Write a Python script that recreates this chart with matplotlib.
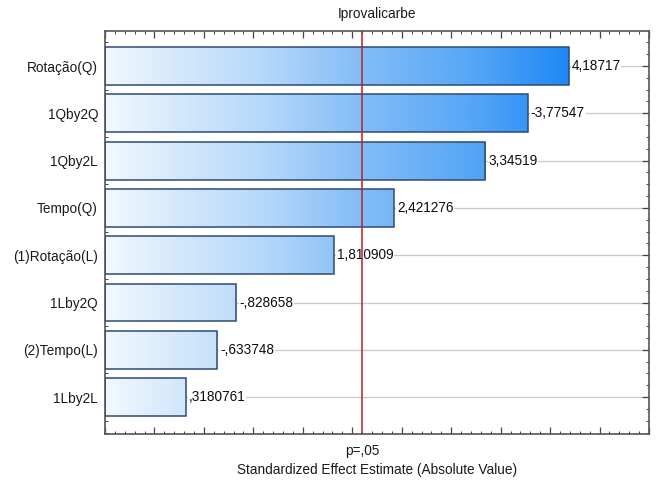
import numpy as np
import matplotlib
matplotlib.use("Agg")
import matplotlib.pyplot as plt
from matplotlib.colors import LinearSegmentedColormap
from matplotlib.patches import Rectangle
from matplotlib.ticker import MultipleLocator, NullFormatter

plt.rcParams['font.family'] = ['Liberation Sans', 'DejaVu Sans']

title = "Iprovalicarbe"
categories = ["Rotação(Q)", "1Qby2Q", "1Qby2L", "Tempo(Q)", "(1)Rotação(L)",
              "1Lby2Q", "(2)Tempo(L)", "1Lby2L"]
effects = [4.18717, -3.77547, 3.34519, 2.421276, 1.810909, -0.828658, -0.633748, 0.3180761]
p_crit = 2.10
p_label = "p=,05"
xlabel = "Standardized Effect Estimate (Absolute Value)"

def fmt(v):
    s = f"{abs(v):.7g}"
    if s.startswith("0."):
        s = s[1:]
    s = s.replace(".", ",")
    return ("-" if v < 0 else "") + s

fs = 9.8
fig = plt.figure(figsize=(6.59, 4.87), dpi=100)
ax = fig.add_axes([105/659, 1-434/487, (649-105)/659, (434-31)/487])

xmin, xmax = -0.5, 5.0
ymin, ymax = -0.78, 7.74
ax.set_xlim(xmin, xmax)
ax.set_ylim(ymin, ymax)

cmap = LinearSegmentedColormap.from_list(
    "g", [(0.0, "#f2f8ff"), (0.18, "#d0e6fb"), (0.35, "#b3d7fa"),
          (0.55, "#84bdf6"), (0.8, "#55a5f6"), (1.0, "#1e88f5")])
norm = plt.Normalize(xmin, 4.19)

n = len(categories)
ypos = [n - 1 - i for i in range(n)]
h = 0.80

for y in ypos:
    ax.axhline(y, color="#c9c9c9", lw=0.9, zorder=0)

for y, v in zip(ypos, effects):
    L = abs(v)
    x0, x1 = xmin, L
    grad = np.linspace(x0, x1, 256).reshape(1, -1)
    im = ax.imshow(grad, cmap=cmap, norm=norm, extent=[x0, x1, y - h/2, y + h/2],
                   aspect="auto", zorder=2, interpolation="bilinear")
    rect = Rectangle((x0, y - h/2), x1 - x0, h, facecolor="none",
                     edgecolor="#2c4c72", lw=1.1, zorder=3)
    ax.add_patch(rect)
    im.set_clip_path(rect)
    ax.text(L + 0.03, y, fmt(v), va="center", ha="left", fontsize=fs,
            color="#0d0d0d", zorder=4,
            bbox=dict(facecolor="white", edgecolor="none", pad=0.5))

ax.axvline(p_crit, color="#b5212b", lw=1.1, zorder=6)
ax.set_xlim(xmin, xmax)
ax.set_ylim(ymin, ymax)

ax.set_yticks(ypos)
ax.set_yticklabels(categories, fontsize=fs, color="#1a1a1a")
ax.yaxis.set_minor_locator(MultipleLocator(0.25))
ax.xaxis.set_major_locator(MultipleLocator(0.5))
ax.xaxis.set_minor_locator(MultipleLocator(0.1))
ax.xaxis.set_major_formatter(NullFormatter())
ax.tick_params(axis="both", which="both", direction="in", top=True, right=True,
               color="#444444")
ax.tick_params(axis="both", which="major", length=5, width=0.9)
ax.tick_params(axis="both", which="minor", length=2.5, width=0.7)
ax.tick_params(axis="y", which="major", pad=5)

for s in ax.spines.values():
    s.set_color("#555555")
    s.set_linewidth(1.2)

ax.text(p_crit, -0.025, p_label, transform=ax.get_xaxis_transform(),
        ha="center", va="top", fontsize=fs, color="#1a1a1a")
fig.text(377/659, 1 - 470/487, xlabel, ha="center", va="center",
         fontsize=fs, color="#1a1a1a")
fig.text(377/659, 1 - 14/487, title, ha="center", va="center",
         fontsize=fs, color="#1a1a1a")

fig.savefig("out.png", dpi=100)
